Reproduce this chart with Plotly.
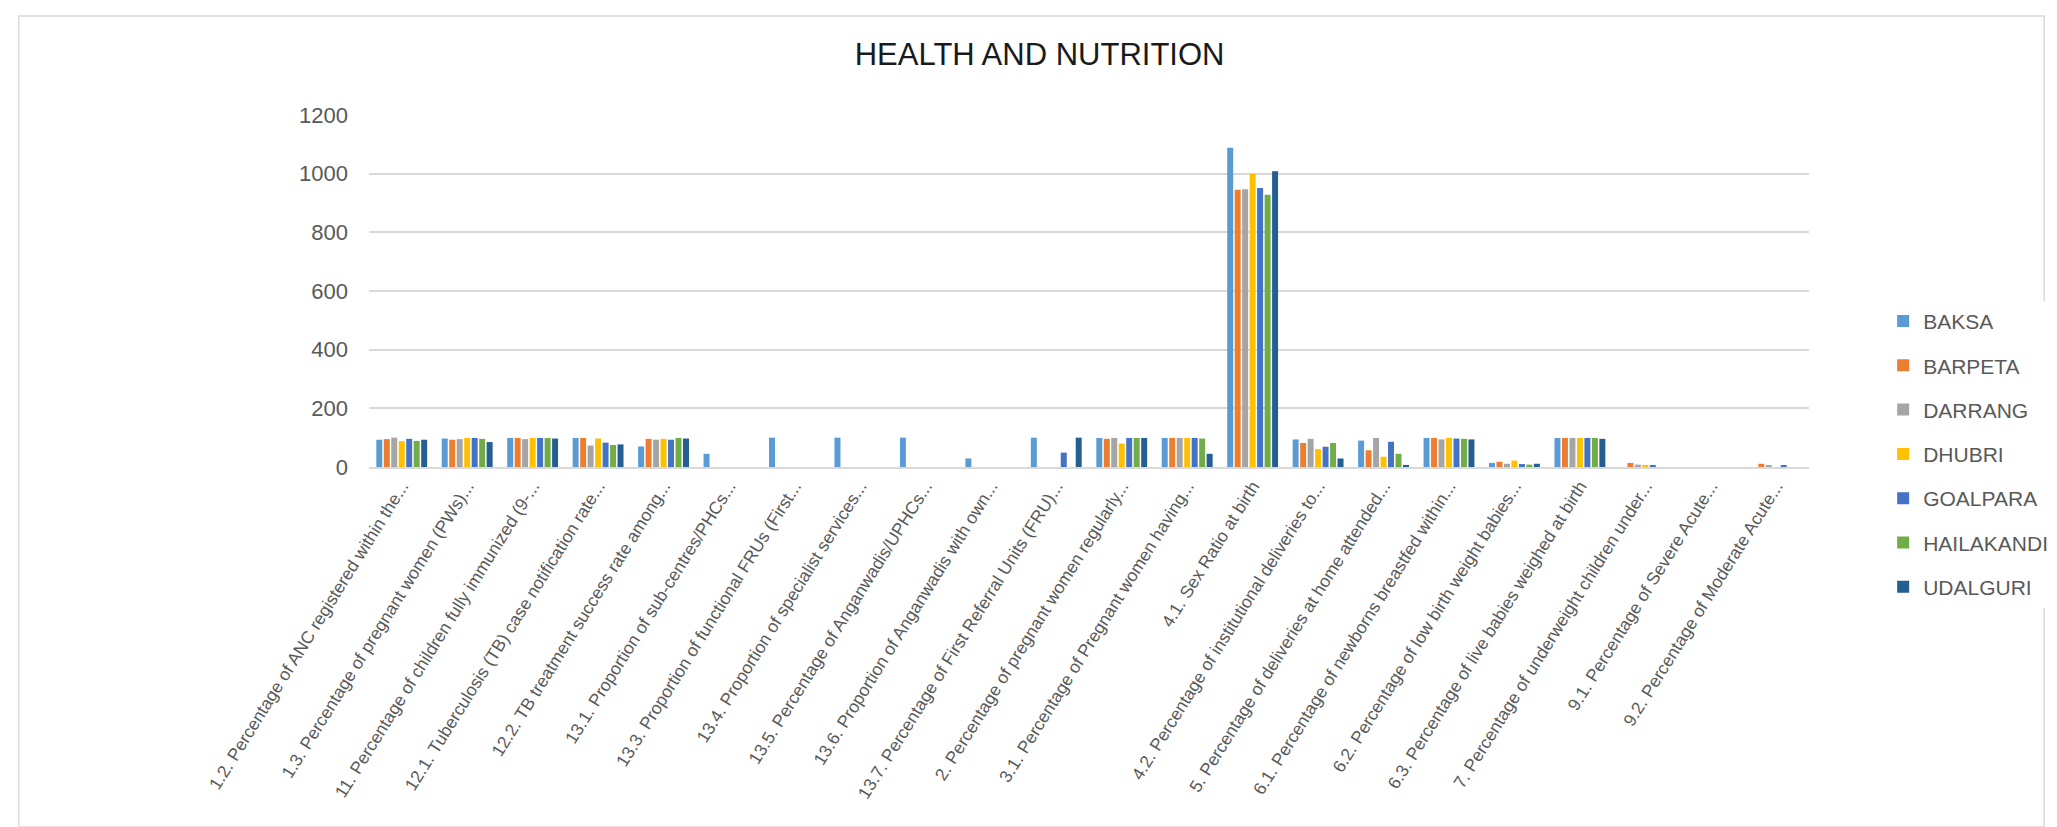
import plotly.graph_objects as go

categories = [
    "1.2. Percentage of ANC registered within the...",
    "1.3. Percentage of pregnant women (PWs)...",
    "11. Percentage of children fully immunized (9-...",
    "12.1. Tuberculosis (TB) case notification rate...",
    "12.2. TB treatment success rate among...",
    "13.1. Proportion of sub-centres/PHCs...",
    "13.3. Proportion of functional FRUs (First...",
    "13.4. Proportion of specialist services...",
    "13.5. Percentage of Anganwadis/UPHCs...",
    "13.6. Proportion of Anganwadis with own...",
    "13.7. Percentage of First Referral Units (FRU)...",
    "2. Percentage of pregnant women regularly...",
    "3.1. Percentage of Pregnant women having...",
    "4.1. Sex Ratio at birth",
    "4.2. Percentage of institutional deliveries to...",
    "5. Percentage of deliveries at home attended...",
    "6.1. Percentage of newborns breastfed within...",
    "6.2. Percentage of low birth weight babies...",
    "6.3. Percentage of live babies weighed at birth",
    "7. Percentage of underweight children under...",
    "9.1. Percentage of Severe Acute...",
    "9.2. Percentage of Moderate Acute...",
]

baksa = [93, 97, 99, 99, 70, 45, 100, 100, 100, 29, 100, 99, 99, 1088, 94, 90, 99, 14, 99, None, None, None]
barpeta = [95, 93, 99, 99, 96, None, None, None, None, None, None, 96, 99, 945, 82, 57, 99, 18, 99, 14, None, 11]
darrang = [100, 95, 95, 73, 93, None, None, None, None, None, None, 99, 99, 947, 96, 99, 94, 11, 99, 8, None, 4]
dhubri = [88, 99, 99, 97, 96, None, None, None, None, None, None, 80, 99, 1000, 61, 35, 99, 22, 99, 5, None, None]
goalpara = [96, 99, 99, 83, 93, None, None, None, None, None, 49, 99, 99, 951, 69, 86, 97, 10, 99, 7, None, 4]
hailakandi = [89, 96, 99, 75, 99, None, None, None, None, None, None, 99, 97, 928, 82, 45, 96, 8, 99, None, None, None]
udalguri = [93, 85, 97, 77, 97, None, None, None, None, None, 100, 99, 45, 1008, 29, 7, 94, 11, 96, None, None, None]

districts = ["BAKSA", "BARPETA", "DARRANG", "DHUBRI", "GOALPARA", "HAILAKANDI", "UDALGURI"]
series = [baksa, barpeta, darrang, dhubri, goalpara, hailakandi, udalguri]
colors = ["#5B9BD5", "#ED7D31", "#A5A5A5", "#FFC000", "#4472C4", "#70AD47", "#255E91"]

fig = go.Figure()
for name, vals, col in zip(districts, series, colors):
    fig.add_trace(go.Bar(
        x=categories, y=vals, name=name, legendgroup=name,
        marker=dict(color=col, line=dict(width=0)),
    ))

grey = "#595959"
fig.update_layout(
    width=2057, height=827,
    margin=dict(l=361, r=245, t=107, b=368),
    paper_bgcolor="white", plot_bgcolor="white",
    font=dict(family="Liberation Sans, Arial, sans-serif", color=grey),
    title=dict(text="HEALTH AND NUTRITION", x=0.5015, xanchor="center",
               y=0.944, yanchor="middle",
               font=dict(size=31, color="#1a1a1a")),
    barmode="group", bargap=0.2, bargroupgap=0.2,
    legend=dict(x=1.0515, xanchor="left", y=0.472, yanchor="top",
                font=dict(size=21, color=grey), tracegroupgap=14),
    xaxis=dict(tickangle=-58, tickfont=dict(size=17.5, color=grey),
               showgrid=False, showline=True, linecolor="#D9D9D9", linewidth=2,
               ticks="", automargin=False),
    yaxis=dict(range=[0, 1200], dtick=200, tickfont=dict(size=22, color=grey),
               showgrid=True, gridcolor="#D9D9D9", gridwidth=2,
               zeroline=False, ticks="", ticklabelstandoff=20, automargin=False),
    shapes=[dict(type="rect", xref="paper", yref="paper",
                 x0=(8 - 361) / 1451, x1=(2049 - 361) / 1451,
                 y0=(459 - 819) / 352, y1=(459 - 8) / 352,
                 line=dict(color="#D9D9D9", width=1.5), layer="below")],
)

fig.write_html("out.html")
